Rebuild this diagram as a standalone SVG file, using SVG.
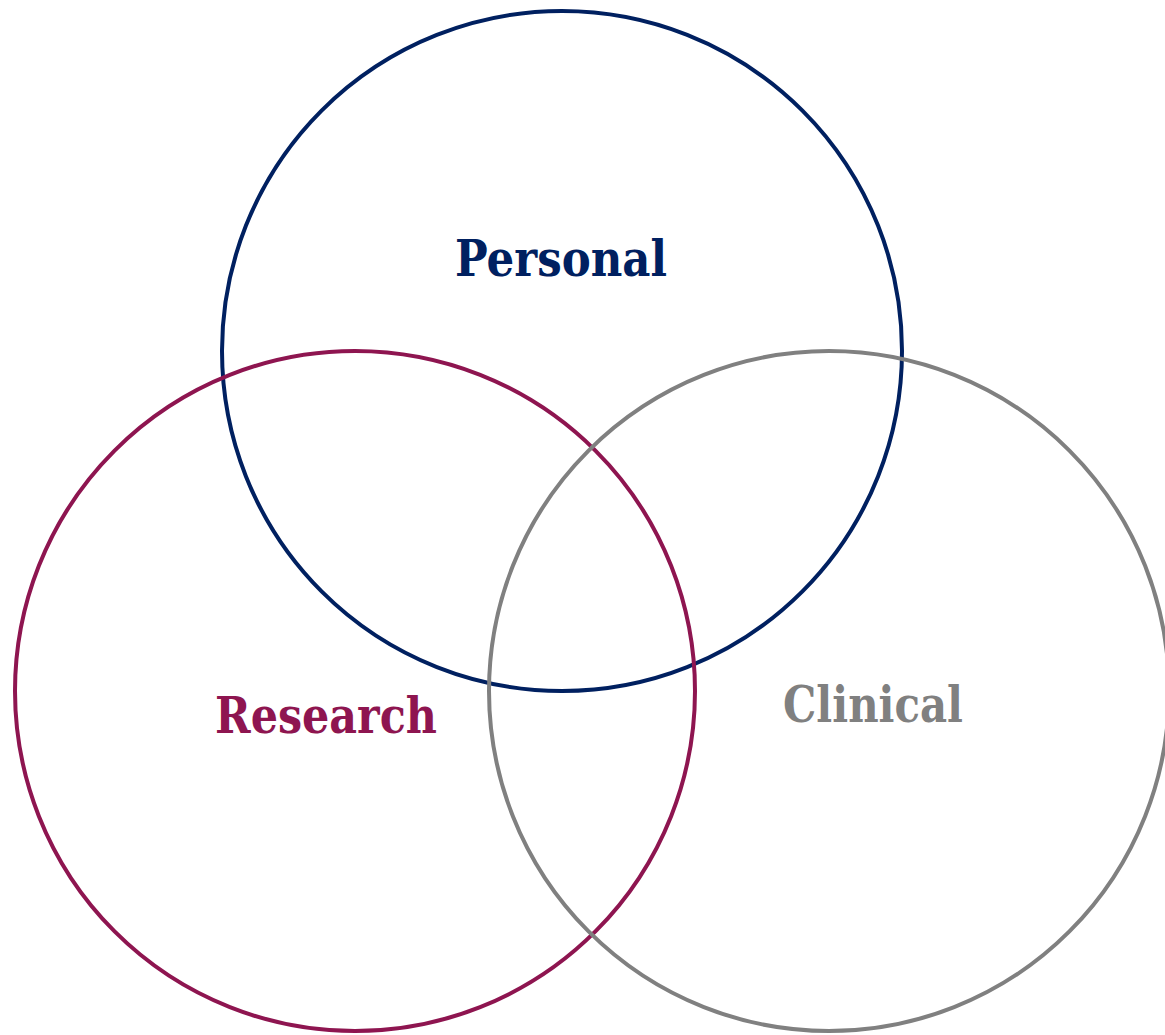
<svg xmlns="http://www.w3.org/2000/svg" width="1165" height="1035" viewBox="0 0 1165 1035">
<style>
.c{fill:none;stroke-width:4}
.t{font-family:"DejaVu Serif","Liberation Serif",serif;font-weight:bold;font-size:50px}
</style>
<rect width="1165" height="1035" fill="#fff"/>
<g id="personal"><circle class="c" cx="562" cy="351" r="340" stroke="#002060"/><text class="t" x="455" y="276" fill="#002060" textLength="212" lengthAdjust="spacingAndGlyphs">Personal</text></g>
<g id="research"><circle class="c" cx="355" cy="691" r="340" stroke="#8E1550"/><text class="t" x="215" y="733" fill="#8E1550" textLength="222" lengthAdjust="spacingAndGlyphs">Research</text></g>
<g id="clinical"><circle class="c" cx="829" cy="691" r="340" stroke="#808080"/><text class="t" x="783" y="722" fill="#808080" textLength="180" lengthAdjust="spacingAndGlyphs">Clinical</text></g>
<g id="connectors"/>
</svg>
